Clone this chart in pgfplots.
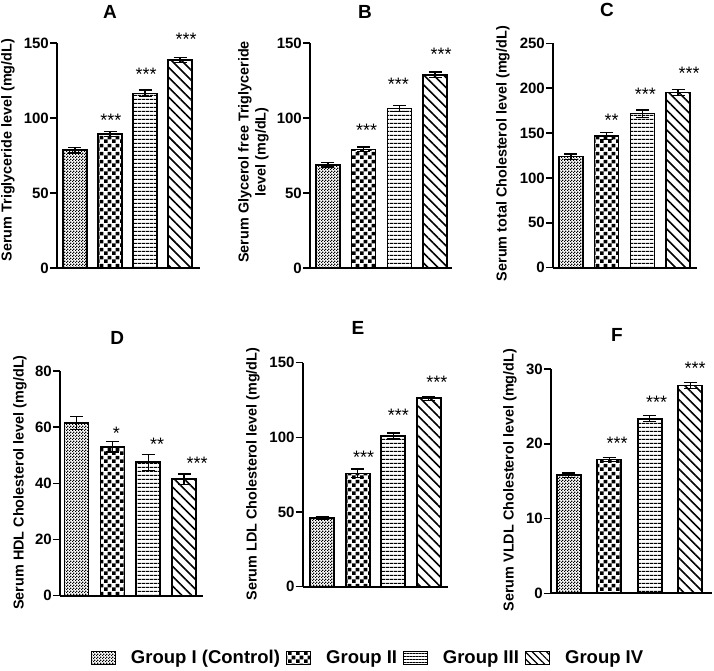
\documentclass[border=0pt]{standalone}
\usepackage{pgfplots}
\pgfplotsset{compat=1.18}
\usetikzlibrary{patterns,patterns.meta}
\usepackage{fontspec}
\setmainfont{Liberation Sans}

\tikzdeclarepattern{name=chkS, type=uncolored,
  bounding box={(0pt,0pt) and (3pt,3pt)}, tile size={(3pt,3pt)},
  code={\fill (0pt,0pt) rectangle (1.5pt,1.5pt); \fill (1.5pt,1.5pt) rectangle (3pt,3pt);}}
\tikzdeclarepattern{name=chkL, type=uncolored,
  bounding box={(0pt,0pt) and (8pt,8pt)}, tile size={(8pt,8pt)},
  code={\fill (0pt,0pt) rectangle (4pt,4pt); \fill (4pt,4pt) rectangle (8pt,8pt);}}

\pgfplotsset{
  panel/.style={
    scale only axis, anchor=south west,
    axis lines*=left, axis line style={line width=1.8pt,-},
    xtick=\empty, ymin=0, enlargelimits=false, clip=false,
    tick align=outside, major tick length=7pt,
    ytick style={line width=1.5pt, black},
    yticklabel style={font=\fontsize{15}{15}\selectfont\bfseries, inner sep=1pt},
    /pgf/number format/assume math mode=true,
    ylabel style={font=\fontsize{14.4}{17}\selectfont\bfseries, align=center, anchor=center},
    title style={font=\fontsize{19}{19}\selectfont\bfseries, anchor=center},
  },
  eb/.style={ybar, bar width=24pt, bar shift=0pt, draw=black, line width=1.6pt, forget plot,
    error bars/y dir=both, error bars/y explicit,
    error bars/error bar style={line width=1.3pt, black, solid},
    error bars/error mark options={line width=1.3pt, mark size=6.5pt, black, solid, rotate=90}},
  g1/.style={eb, pattern=chkS},
  g2/.style={eb, pattern=chkL},
  g3/.style={eb, pattern={Lines[angle=0, distance=4pt, line width=1pt]}},
  g4/.style={eb, pattern={Lines[angle=-45, distance=7pt, line width=1.6pt]}},
}
\newcommand{\st}[4]{\node[font=\fontsize{18}{18}\selectfont, anchor=base, yshift=-10pt, xshift=#4pt, inner sep=0pt] at (axis cs:#1,#2) {#3};}

\begin{document}
\begin{tikzpicture}
\path[use as bounding box] (0pt,0pt) rectangle (714pt,-671pt);

% A
\begin{axis}[panel, at={(57pt,-268pt)}, width=143pt, height=225pt,
  xmin=0.486, xmax=4.571, ymax=150, ytick={0,50,100,150},
  title={A}, title style={at={(axis description cs:0.37,1)}, yshift=25pt},
  ylabel={Serum Triglyceride level (mg/dL)},
  ylabel style={at={(axis description cs:-0.343,0.524)}}]
\addplot[g1] coordinates {(1,78.5) +- (0,1.8)};
\addplot[g2] coordinates {(2,89.3) +- (0,1.7)};
\addplot[g3] coordinates {(3,116.4) +- (0,2.2)};
\addplot[g4] coordinates {(4,138.7) +- (0,1.8)};
\st{2}{101.3}{***}{1}
\st{3}{131.5}{***}{1}
\st{4}{154.9}{***}{6}
\end{axis}

% B
\begin{axis}[panel, at={(310pt,-268pt)}, width=142pt, height=225pt,
  xmin=0.496, xmax=4.474, ymax=150, ytick={0,50,100,150},
  title={B}, title style={at={(axis description cs:0.387,1)}, yshift=25pt},
  ylabel={Serum Glycerol free Triglyceride\\level (mg/dL)},
  ylabel style={at={(axis description cs:-0.398,0.516)}}]
\addplot[g1] coordinates {(1,68.8) +- (0,1.5)};
\addplot[g2] coordinates {(2,79.1) +- (0,1.5)};
\addplot[g3] coordinates {(3,106.4) +- (0,2.0)};
\addplot[g4] coordinates {(4,128.8) +- (0,1.8)};
\st{2}{94.2}{***}{3}
\st{3}{124.7}{***}{-1}
\st{4}{144.9}{***}{6}
\end{axis}

% C
\begin{axis}[panel, at={(553pt,-267.7pt)}, width=144pt, height=224.4pt,
  xmin=0.496, xmax=4.53, ymax=250, ytick={0,50,100,150,200,250},
  title={C}, title style={at={(axis description cs:0.375,1)}, yshift=27pt},
  ylabel={Serum total Cholesterol level (mg/dL)},
  ylabel style={at={(axis description cs:-0.347,0.509)}}]
\addplot[g1] coordinates {(1,123.7) +- (0,3)};
\addplot[g2] coordinates {(2,146.7) +- (0,4)};
\addplot[g3] coordinates {(3,171.6) +- (0,4)};
\addplot[g4] coordinates {(4,195) +- (0,3.5)};
\st{2}{168.2}{**}{5}
\st{3}{197.2}{***}{3}
\st{4}{221.0}{***}{11}
\end{axis}

% D
\begin{axis}[panel, at={(60pt,-595.7pt)}, width=143pt, height=224.7pt,
  xmin=0.534, xmax=4.53, ymax=80, ytick={0,20,40,60,80},
  title={D}, title style={at={(axis description cs:0.40,1)}, yshift=27pt},
  ylabel={Serum HDL Cholesterol level (mg/dL)},
  ylabel style={at={(axis description cs:-0.28,0.504)}}]
\addplot[g1] coordinates {(1,61.4) +- (0,2.3)};
\addplot[g2] coordinates {(2,53.0) +- (0,1.8)};
\addplot[g3] coordinates {(3,47.5) +- (0,2.8)};
\addplot[g4] coordinates {(4,41.5) +- (0,1.8)};
\st{2}{59.0}{*}{4}
\st{3}{55.4}{**}{9}
\st{4}{48.6}{***}{13}
\end{axis}

% E
\begin{axis}[panel, at={(302.7pt,-586.7pt)}, width=145.6pt, height=224pt,
  xmin=0.45, xmax=4.55, ymax=150, ytick={0,50,100,150},
  title={E}, title style={at={(axis description cs:0.38,1)}, yshift=28.7pt},
  ylabel={Serum LDL Cholesterol level (mg/dL)},
  ylabel style={at={(axis description cs:-0.341,0.503)}},
  legend image code/.code={\draw[#1] (0pt,-6.5pt) rectangle (24pt,6.5pt);},
  legend columns=4,
  legend style={at={(axis description cs:0.4485,-0.318)}, anchor=center, draw=none, fill=none,
    font=\fontsize{18.5}{18.5}\selectfont\bfseries,
    /tikz/every odd column/.append style={column sep=13pt},
    /tikz/every even column/.append style={column sep=4pt}}]
\addplot[g1] coordinates {(1,46.2) +- (0,1)};
\addplot[g2] coordinates {(2,75.9) +- (0,3)};
\addplot[g3] coordinates {(3,100.9) +- (0,2)};
\addplot[g4] coordinates {(4,126.2) +- (0,1.3)};
\st{2}{89.3}{***}{6}
\st{3}{117.2}{***}{5}
\st{4}{139.1}{***}{8}
\addlegendimage{draw=black, line width=1.2pt, pattern=chkS}
\addlegendentry{Group I (Control)}
\addlegendimage{draw=black, line width=1.2pt, pattern=chkL}
\addlegendentry{Group II}
\addlegendimage{draw=black, line width=1.2pt, pattern={Lines[angle=0, distance=3pt, line width=0.8pt]}}
\addlegendentry{Group III}
\addlegendimage{draw=black, line width=1.2pt, pattern={Lines[angle=-45, distance=5pt, line width=1.2pt]}}
\addlegendentry{Group IV}
\end{axis}

% F
\begin{axis}[panel, at={(551pt,-593.3pt)}, width=160.7pt, height=224.3pt,
  xmin=0.563, xmax=4.53, ymax=30, ytick={0,10,20,30},
  title={F}, title style={at={(axis description cs:0.41,1)}, yshift=28pt},
  ylabel={Serum VLDL Cholesterol level (mg/dL)},
  ylabel style={at={(axis description cs:-0.255,0.505)}}]
\addplot[g1] coordinates {(1,15.8) +- (0,0.3)};
\addplot[g2] coordinates {(2,17.9) +- (0,0.3)};
\addplot[g3] coordinates {(3,23.35) +- (0,0.4)};
\addplot[g4] coordinates {(4,27.77) +- (0,0.4)};
\st{2}{20.6}{***}{8}
\st{3}{26.0}{***}{7}
\st{4}{30.6}{***}{5}
\end{axis}
\end{tikzpicture}
\end{document}
